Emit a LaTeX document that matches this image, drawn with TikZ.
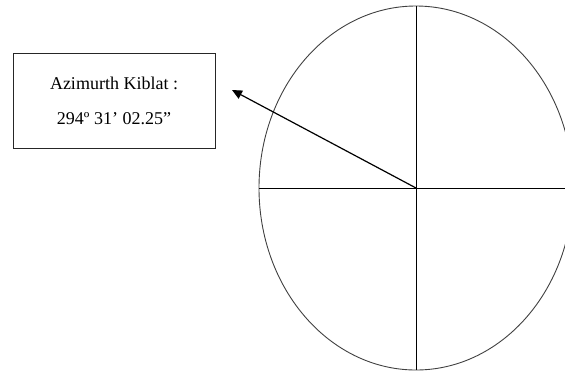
\documentclass[tikz,border=0pt]{standalone}
\usepackage{fontspec}
\setmainfont{Liberation Serif}
\usetikzlibrary{arrows.meta}
\begin{document}
\begin{tikzpicture}[x=1pt,y=-1pt,
  rim/.style={draw=black!75,line width=0.9pt},
  axis/.style={draw=black,line width=0.9pt},
  label/.style={draw=black!85,line width=1pt,minimum width=202pt,minimum height=95pt,align=center,font=\fontsize{18}{35}\selectfont,inner sep=0pt},
  pointer/.style={draw=black,line width=1.2pt,-{Triangle[length=10pt,width=9pt]}}]
\useasboundingbox (0,0) rectangle (565,373);
\coordinate (c) at (416,188);
\draw[rim] (c) ellipse [x radius=157, y radius=182];
\coordinate (top) at (416,6);
\coordinate (bot) at (416,370);
\coordinate (lft) at (259,188);
\coordinate (rgt) at (565,188);
\draw[axis] (top) -- (bot);
\draw[axis] (lft) -- (rgt);
\node[label] (box) at (114,100.5) {Azimurth Kiblat :\\294º 31’ 02.25”};
\coordinate (tip) at (232,90);
\draw[pointer] (c) -- (tip);
\end{tikzpicture}
\end{document}
